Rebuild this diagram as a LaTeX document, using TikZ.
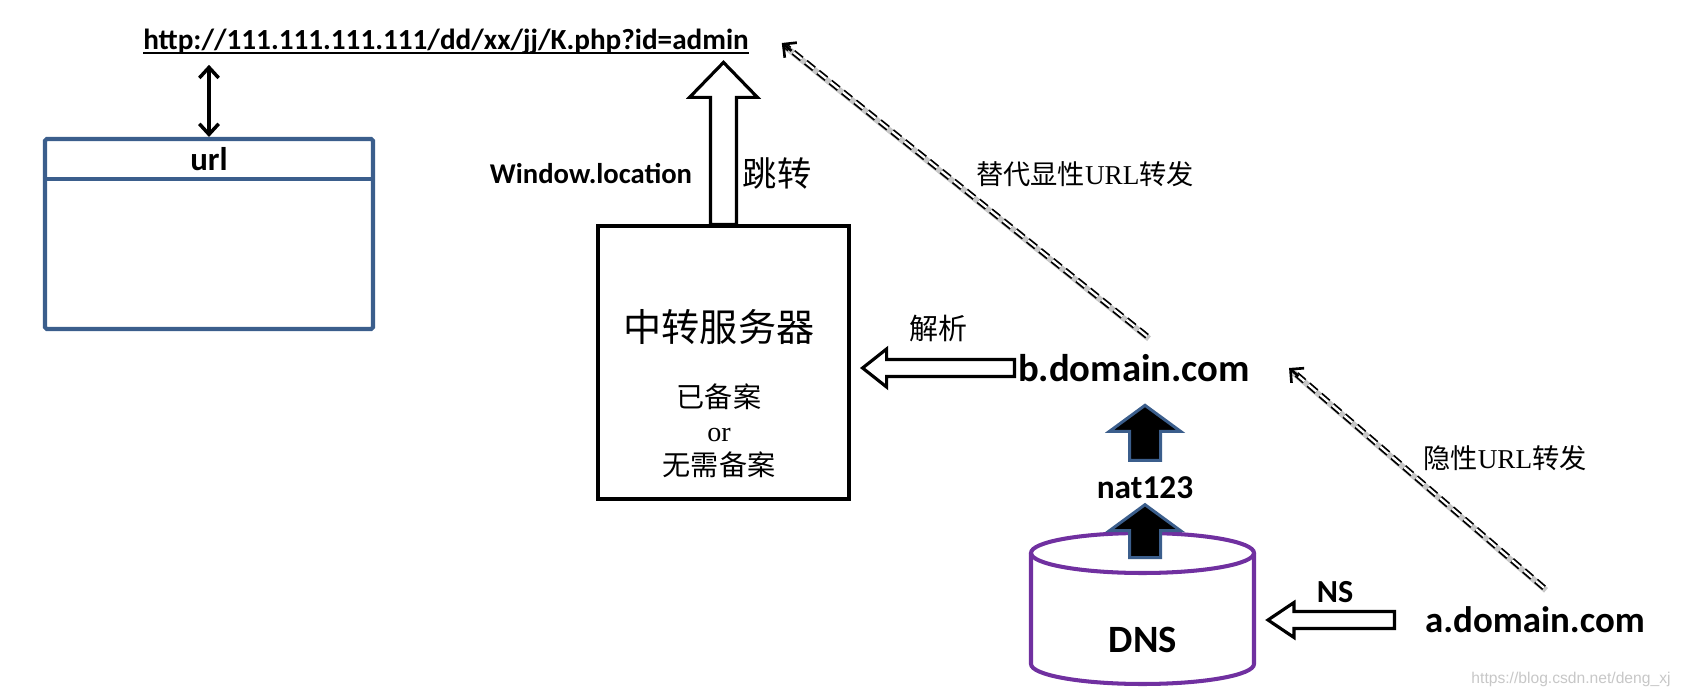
\documentclass[tikz,border=0pt]{standalone}
\usepackage{fontspec}
\setmainfont{Carlito}
\newfontfamily\cjk{Noto Sans CJK SC}
\newfontfamily\serif{Liberation Serif}
\newfontfamily\wmark{Liberation Sans}
\usetikzlibrary{calc,arrows.meta}
\definecolor{boxblue}{HTML}{3B5E8C}
\definecolor{dnspurple}{HTML}{7030A0}
\newcommand{\thickul}[1]{\leavevmode\setbox0\hbox{#1}\rlap{\rule[-2.6pt]{\wd0}{1.1pt}}\box0}

% fat arrows: style, from, to, shaft half width, head half width, head length
\newcommand{\fatup}[6]{%
  \draw[#1] let \p1=(#2), \p2=(#3) in
    (\x1-#4,\y1) -- (\x1-#4,\y2-#6) -- (\x1-#5,\y2-#6) -- (\x1,\y2)
    -- (\x1+#5,\y2-#6) -- (\x1+#4,\y2-#6) -- (\x1+#4,\y1) -- cycle;}
\newcommand{\fatleft}[6]{%
  \draw[#1] let \p1=(#2), \p2=(#3) in
    (\x1,\y1-#4) -- (\x2+#6,\y1-#4) -- (\x2+#6,\y1-#5) -- (\x2,\y1)
    -- (\x2+#6,\y1+#5) -- (\x2+#6,\y1+#4) -- (\x1,\y1+#4) -- cycle;}

\begin{document}
\begin{tikzpicture}[>=latex,
    lbl/.style={font=\bfseries\fontsize{#1}{#1}\selectfont, inner sep=1pt},
    cjklbl/.style={font=\cjk\fontsize{#1}{#1}\selectfont, inner sep=1pt},
    hollow/.style={draw=black, fill=white, line width=1.8pt},
    solidup/.style={draw=boxblue, fill=black, line width=1.7pt},
    fwd/.style={draw=black, double=white, double distance=1.3pt, line width=1pt, dash pattern=on 6pt off 3pt},
    fwdshadow/.style={draw=black!22, line width=3.4pt, transform canvas={shift={(0.04,-0.05)}}},
    fwdtip/.style={-{Straight Barb[length=5.5pt, width=11pt]}, line width=1.5pt},
  ]
		\useasboundingbox (0,0) rectangle (33.62,13.94);
		%\draw[help lines] (0,0) grid (33,13);
		
		\node[lbl=16.6] (url) at (8.92,13.10) {\thickul{http://111.111.111.111/dd/xx/jj/K.php?id=admin}};
		
		\node[draw=boxblue, line width=2.3pt, rounded corners=1pt, minimum width=6.56cm, minimum height=3.8cm, inner sep=0] (tbl) at (4.18,9.26) {};%table
		\draw[boxblue, line width=2.3pt] ($(tbl.north west)+(0,-0.85)$) -- ($(tbl.north east)+(0,-0.85)$);
		\node[lbl=18.7] (tblhead) at ($(tbl.north)+(0,-0.45)$) {url};
		\draw[{Straight Barb[length=6pt,width=11pt]}-{Straight Barb[length=6pt,width=11pt]}, line width=2pt] (tbl.north) -- ($(tbl.north |- url.south)+(0,-0.16)$);
		
		\node[draw, line width=1.8pt, minimum width=5.02cm, minimum height=5.46cm, inner sep=0] (srv) at (14.47,6.69) {};%server
		\node[cjklbl=21.7] (srvname) at (14.38,7.40) {中转服务器};
		\node[font=\cjk\fontsize{16}{19.3}\selectfont, align=center, inner sep=1pt] (srvnote) at (14.38,5.32) {已备案\\{\serif or}\\无需备案};
		
		\fatup{hollow}{srv.north}{$(srv.north)+(0,3.24)$}{0.26cm}{0.68cm}{0.70cm}%jump
		\node[lbl=16.3] (winloc) at (11.82,10.46) {Window.location};
		\node[cjklbl=19.5] (jump) at (15.54,10.46) {跳转};
		
		\node[lbl=22] (bdom) at (22.68,6.58) {b.domain.com};
		\fatleft{hollow}{$(bdom.west)+(-0.03,0)$}{$(srv.east)+(0.24,0)$}{0.17cm}{0.38cm}{0.48cm}%resolve
		\node[cjklbl=16.5] (resolve) at (18.76,7.36) {解析};
		
		\node[lbl=19] (nat) at (22.90,4.18) {nat123};
		\fatup{solidup}{$(nat.north)+(0,0.29)$}{$(bdom.south)+(0,-0.43)$}{0.31cm}{0.71cm}{0.52cm}
		
		\coordinate (dnsc) at (22.85,2.88);
		\draw[dnspurple, line width=2.3pt, fill=white] (dnsc) ++(-2.23,0) -- ++(0,-2.22) arc[start angle=180, end angle=360, x radius=2.23, y radius=0.40] -- ++(0,2.22);%cylinder
		\draw[dnspurple, line width=2.3pt] (dnsc) ellipse[x radius=2.23, y radius=0.40];
		\node[lbl=22] (dns) at (22.86,1.14) {DNS};
		\fatup{solidup}{$(nat.south)+(0,-1.13)$}{$(nat.south)+(0,-0.07)$}{0.31cm}{0.71cm}{0.52cm}
		
		\node[lbl=21] (adom) at (30.70,1.54) {a.domain.com};
		\fatleft{hollow}{$(adom.west)+(-0.57,0)$}{$(dnsc)+(2.51,0)$}{0.17cm}{0.35cm}{0.52cm}%NS
		\node[lbl=18.3] (ns) at (26.70,2.10) {NS};
		
		\coordinate (fwd1s) at ($(bdom.north)+(0.26,0.32)$);
		\coordinate (fwd1e) at ($(url.east)+(0.62,-0.02)$);
		\draw[fwdshadow] (fwd1s) -- (fwd1e);
		\draw[fwd, shorten >=3pt] (fwd1s) -- (fwd1e);
		\draw[fwdtip] ($(fwd1e)!0.25cm!(fwd1s)$) -- (fwd1e);
		\node[cjklbl=15.5] (explicit) at (21.70,10.46) {替代显性{\serif URL}转发};
		
		\coordinate (fwd2s) at ($(adom.north)+(0.18,0.34)$);
		\coordinate (fwd2e) at ($(bdom.east)+(0.74,0)$);
		\draw[fwdshadow] (fwd2s) -- (fwd2e);
		\draw[fwd, shorten >=3pt] (fwd2s) -- (fwd2e);
		\draw[fwdtip] ($(fwd2e)!0.25cm!(fwd2s)$) -- (fwd2e);
		\node[cjklbl=15.5] (implicit) at (30.10,4.78) {隐性{\serif URL}转发};
		
		\node[font=\wmark\fontsize{8.9}{10}\selectfont, text=black!22] (wm) at (31.42,0.36) {https://blog.csdn.net/deng\_xj};
\end{tikzpicture}
\end{document}
